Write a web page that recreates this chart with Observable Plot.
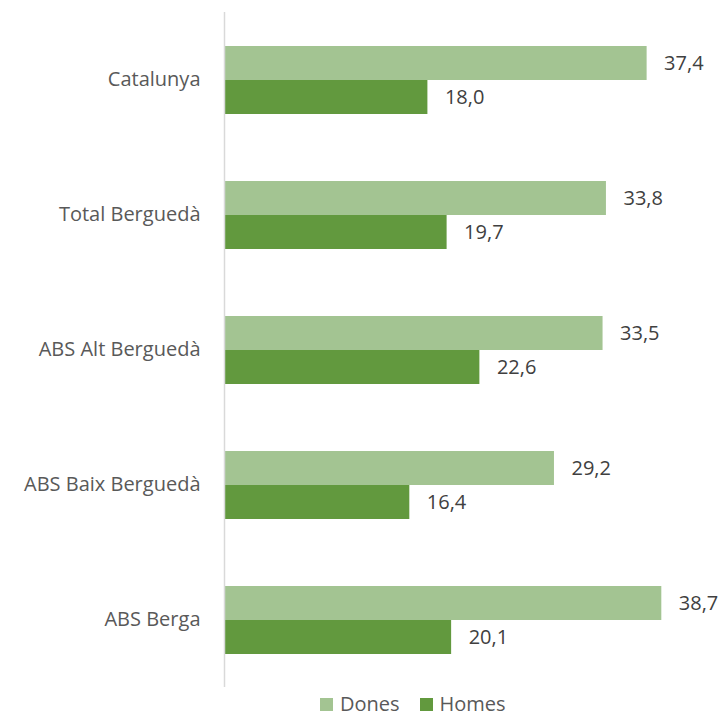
<!DOCTYPE html>
<html><head><meta charset="utf-8">
<script src="https://cdn.jsdelivr.net/npm/d3@7"></script>
<script src="https://cdn.jsdelivr.net/npm/@observablehq/plot@0.6"></script>
<style>
body{margin:0;background:#fff;font-family:"Open Sans",sans-serif;}
#chart svg{display:block;}
#legend{display:flex;gap:20px;margin-left:320px;margin-top:0;font-size:20px;color:#595959;line-height:22px;}
#legend span.sw{display:inline-block;width:13px;height:13px;margin-right:7px;vertical-align:0px;}
</style>
</head><body>
<div id="chart"></div>
<div id="legend"></div>
<script>
const regions = ["Catalunya","Total Berguedà","ABS Alt Berguedà","ABS Baix Berguedà","ABS Berga"];
const series = ["Dones","Homes"];
const dones = [37.4,33.8,33.5,29.2,38.7];
const homes = [18.0,19.7,22.6,16.4,20.1];
const colors = ["#a3c492","#62993e"];

const data = [];
regions.forEach((r,i)=>{
  data.push({region:r, serie:"Dones", value:dones[i]});
  data.push({region:r, serie:"Homes", value:homes[i]});
});
const fmt = v => v.toFixed(1).replace(".",",");

const chart = Plot.plot({
  width:721, height:693,
  marginLeft:224, marginRight:45, marginTop:10, marginBottom:5,
  style:{fontFamily:"Open Sans", fontSize:"20px", color:"#595959"},
  x:{domain:[0,40], axis:null},
  y:{domain:series, axis:null, paddingInner:0, paddingOuter:0.936},
  fy:{domain:regions, padding:0, label:null, tickSize:0, tickPadding:24},
  color:{domain:series, range:colors},
  marks:[
    Plot.barX(data,{fy:"region", y:"serie", x:"value", fill:"serie"}),
    Plot.text(data,{fy:"region", y:"serie", x:"value", text:d=>fmt(d.value), textAnchor:"start", dx:17, fill:"#404040", fontSize:20}),
    Plot.ruleX([0],{stroke:"#d9d9d9", strokeWidth:1.5})
  ]
});
document.getElementById("chart").appendChild(chart);
const lg = document.getElementById("legend");
series.forEach((s,i)=>{
  const d=document.createElement("div");
  d.innerHTML=`<span class="sw" style="background:${colors[i]}"></span>${s}`;
  lg.appendChild(d);
});
</script>
</body></html>
